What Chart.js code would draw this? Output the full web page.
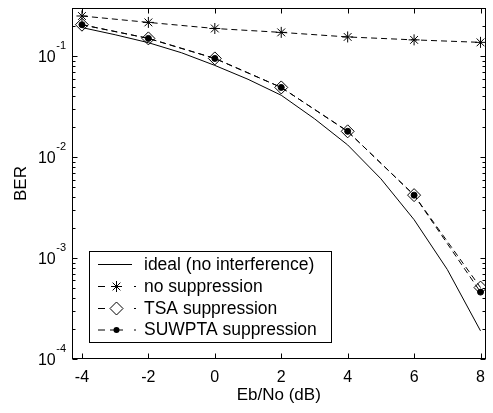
<!DOCTYPE html>
<html>
<head>
<meta charset="utf-8">
<script src="https://cdn.jsdelivr.net/npm/chart.js@4/dist/chart.umd.min.js"></script>
<style>
  body { margin: 0; background: #fff; }
  canvas { display: block; }
</style>
</head>
<body>
<canvas id="ber" width="493" height="413"></canvas>
<script>
// Eb/No points (dB)
const ebno = [-4, -2, 0, 2, 4, 6, 8];
const ebnoIdeal = [-4, -3, -2, -1, 0, 1, 2, 3, 4, 5, 6, 7, 8];

// BER values
const berIdeal = [0.192, 0.163, 0.136, 0.108, 0.081, 0.059, 0.041, 0.024, 0.0132, 0.0061, 0.0024, 0.00077, 0.00019];
const berNoSup = [0.25, 0.216, 0.188, 0.172, 0.155, 0.145, 0.137];
const berTSA = [0.205, 0.15, 0.095, 0.049, 0.018, 0.0042, 0.00051];
const berSUWPTA = [0.205, 0.15, 0.095, 0.049, 0.018, 0.0042, 0.00046];

const xTicks = [-4, -2, 0, 2, 4, 6, 8];
const yDecades = [-1, -2, -3, -4];
const legendLabels = ['ideal (no interference)', 'no suppression', 'TSA suppression', 'SUWPTA suppression'];

const FONT = '"Liberation Sans", Arial, sans-serif';

function pts(xs, ys) {
  return xs.map((x, i) => ({ x: x, y: ys[i] }));
}

const sets = [
  { label: legendLabels[0], data: pts(ebnoIdeal, berIdeal), borderColor: '#000', borderWidth: 1,
    pointRadius: 0, order: 3 },
  { label: legendLabels[1], data: pts(ebno, berNoSup), borderColor: '#000', borderWidth: 1,
    borderDash: [6, 4], pointStyle: 'star', pointRadius: 5.5, pointBorderColor: '#000',
    pointBorderWidth: 1, order: 2 },
  { label: legendLabels[2], data: pts(ebno, berTSA), borderColor: '#000', borderWidth: 1,
    borderDash: [6, 4], pointStyle: 'rectRot', pointRadius: 6.5, pointBorderColor: '#000',
    pointBackgroundColor: 'rgba(0,0,0,0)', pointBorderWidth: 1, order: 1 },
  { label: legendLabels[3], data: pts(ebno, berSUWPTA), borderColor: '#000', borderWidth: 1,
    borderDash: [6, 4], pointStyle: 'circle', pointRadius: 3, pointBorderColor: '#000',
    pointBackgroundColor: '#000', pointBorderWidth: 1, order: 0 }
];

function marker(ctx, style, r, x, y) {
  ctx.save();
  ctx.strokeStyle = '#000';
  ctx.fillStyle = '#000';
  ctx.lineWidth = 1;
  ctx.setLineDash([]);
  ctx.beginPath();
  if (style === 'star') {
    ctx.moveTo(x - r, y); ctx.lineTo(x + r, y);
    ctx.moveTo(x, y - r); ctx.lineTo(x, y + r);
    const d = r * Math.SQRT1_2;
    ctx.moveTo(x - d, y - d); ctx.lineTo(x + d, y + d);
    ctx.moveTo(x - d, y + d); ctx.lineTo(x + d, y - d);
    ctx.stroke();
  } else if (style === 'rectRot') {
    ctx.moveTo(x, y - r); ctx.lineTo(x + r, y); ctx.lineTo(x, y + r); ctx.lineTo(x - r, y);
    ctx.closePath();
    ctx.stroke();
  } else if (style === 'circle') {
    ctx.arc(x, y, r, 0, Math.PI * 2);
    ctx.fill();
  }
  ctx.restore();
}

const framePlugin = {
  id: 'frame',
  afterDraw(chart) {
    const ctx = chart.ctx;
    const a = chart.chartArea;
    const xs = chart.scales.x, ys = chart.scales.y;
    const L = Math.round(a.left) + 0.5, R = Math.round(a.right) - 0.5;
    const T = Math.round(a.top) + 0.5, B = Math.round(a.bottom) - 0.5;
    ctx.save();
    ctx.strokeStyle = '#000';
    ctx.lineWidth = 1;
    ctx.strokeRect(L, T, R - L, B - T);

    // x ticks, inward on bottom and top
    ctx.beginPath();
    xTicks.forEach(v => {
      const px = Math.round(xs.getPixelForValue(v)) + 0.5;
      ctx.moveTo(px, B); ctx.lineTo(px, B - 5);
      ctx.moveTo(px, T); ctx.lineTo(px, T + 5);
    });
    // y ticks: majors and minors, inward on left and right
    yDecades.forEach(d => {
      for (let m = 1; m <= 9; m++) {
        const v = m * Math.pow(10, d);
        if (v > ys.max * 1.0001 || v < ys.min * 0.9999) continue;
        const py = Math.round(ys.getPixelForValue(v)) + 0.5;
        const len = m === 1 ? 5 : 3;
        ctx.moveTo(L, py); ctx.lineTo(L + len, py);
        ctx.moveTo(R, py); ctx.lineTo(R - len, py);
      }
    });
    ctx.stroke();

    // y tick labels 10^d
    ctx.fillStyle = '#000';
    ctx.textAlign = 'right';
    ctx.textBaseline = 'alphabetic';
    yDecades.forEach(d => {
      const py = ys.getPixelForValue(Math.pow(10, d));
      const exp = String(d);
      ctx.font = '11px ' + FONT;
      const ew = ctx.measureText(exp).width;
      const ex = L - 6.5;
      ctx.fillText(exp, ex, py - 7);
      ctx.font = '16px ' + FONT;
      ctx.fillText('10', ex - ew - 0.5, py + 6);
    });

    // legend
    const box = { l: 89.5, t: 251.5, r: 331.5, b: 342.5 };
    ctx.fillStyle = '#fff';
    ctx.fillRect(box.l, box.t, box.r - box.l, box.b - box.t);
    ctx.strokeRect(box.l, box.t, box.r - box.l, box.b - box.t);
    const rows = [264, 286, 308, 329.5];
    ctx.font = '17.5px ' + FONT;
    ctx.textAlign = 'left';
    ctx.textBaseline = 'middle';
    rows.forEach((ry, i) => {
      const ds = sets[i];
      ctx.beginPath();
      if (i === 0) {
        ctx.moveTo(98, ry + 0.5); ctx.lineTo(132, ry + 0.5);
      } else {
        ctx.moveTo(98, ry + 0.5); ctx.lineTo(105, ry + 0.5);
        ctx.moveTo(134, ry + 0.5); ctx.lineTo(136, ry + 0.5);
        if (i === 3) { ctx.moveTo(110, ry + 0.5); ctx.lineTo(123, ry + 0.5); }
      }
      ctx.stroke();
      if (i > 0) marker(ctx, ds.pointStyle, ds.pointRadius, 116.5, ry + 0.5);
      ctx.fillStyle = '#000';
      ctx.fillText(ds.label, 144, ry + 1);
    });
    ctx.restore();
  }
};

new Chart(document.getElementById('ber').getContext('2d'), {
  type: 'line',
  data: { datasets: sets },
  options: {
    responsive: false,
    animation: false,
    layout: { padding: { top: 8, right: 1, bottom: 0, left: 0 } },
    elements: { line: { tension: 0, fill: false } },
    plugins: { legend: { display: false }, tooltip: { enabled: false } },
    scales: {
      x: {
        type: 'linear',
        min: -4.3,
        max: 8.15,
        afterBuildTicks: s => { s.ticks = xTicks.map(v => ({ value: v })); },
        afterFit: s => { s.height = 54; },
        grid: { display: false },
        border: { display: false },
        ticks: { color: '#000', font: { family: FONT, size: 16 }, padding: 1, maxRotation: 0 },
        title: { display: true, text: 'Eb/No (dB)', color: '#000', font: { family: FONT, size: 17 },
          padding: { top: 0, bottom: 7 } }
      },
      y: {
        type: 'logarithmic',
        min: 1e-4,
        max: 0.3,
        afterFit: s => { s.width = 72; },
        grid: { display: false },
        border: { display: false },
        ticks: { display: false },
        title: { display: true, text: 'BER', color: '#000', font: { family: FONT, size: 17 },
          padding: { top: 11, bottom: 0 } }
      }
    }
  },
  plugins: [framePlugin]
});
</script>
</body>
</html>
